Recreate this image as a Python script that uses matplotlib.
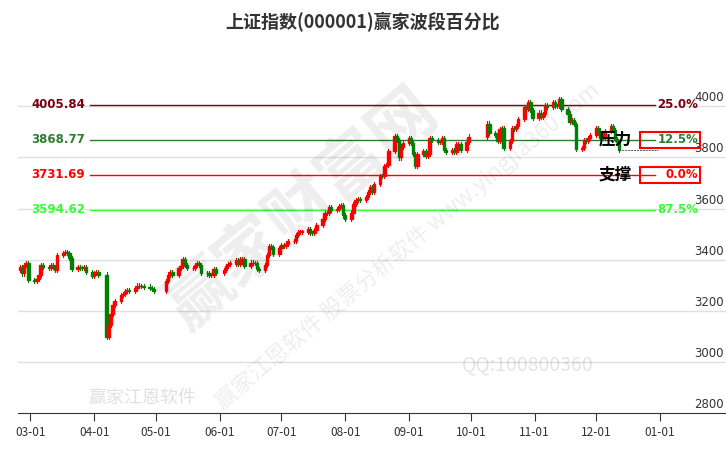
import matplotlib
matplotlib.use("Agg")
import matplotlib.pyplot as plt
import matplotlib.dates as mdates
import pandas as pd
import numpy as np
from matplotlib.patches import Rectangle

plt.rcParams['font.family'] = ['Noto Sans CJK SC', 'DejaVu Sans']

closes = [3373,3346,3380,3388,3320,
 3316,3324,3341,3381,3372,3366,3379,3371,3358,3419,3426,3429,3426,3408,3364,3370,3369,3368,3373,3351,3336,
 3348,3350,3342,3096,3145,3186,3223,3238,3262,3267,3276,3280,3276,3291,3299,3296,3297,3295,3288,3286,3279,
 3316,3342,3352,3342,3369,3374,3403,3380,3367,3367,3381,3387,3380,3348,3346,3340,3340,3363,3347,
 3361,3376,3384,3385,3399,3385,3402,3402,3377,3389,3387,3388,3362,3359,3381,3420,3455,3448,3424,3444,
 3457,3454,3461,3473,3473,3497,3509,3510,3510,3519,3505,3503,3516,3534,3559,3581,3582,3605,3593,3597,3609,3615,3573,
 3559,3583,3617,3634,3639,3635,3647,3665,3683,3666,3696,3728,3727,3766,3771,3825,3883,3868,3800,3843,3857,
 3875,3858,3813,3765,3812,3826,3807,3812,3875,3870,3860,3861,3876,3831,3820,3828,3821,3853,3853,3828,3862,3882,
 3933,3897,3889,3865,3912,3916,3839,3863,3916,3913,3922,3950,3996,3988,4016,3986,3954,
 3976,3960,3969,4007,3997,4018,4002,4000,4029,3990,3972,3939,3946,3931,3834,3836,3870,3864,3875,3888,
 3914,3898,3878,3875,3902,3924,3909,3873,3860,3830]
first_open = 3360
holidays = ['2025-04-04','2025-05-01','2025-05-02','2025-05-05','2025-06-02',
            '2025-10-01','2025-10-02','2025-10-03','2025-10-06','2025-10-07','2025-10-08']
levels = [4005.84, 3868.77, 3731.69, 3594.62]
level_pct = ['25.0%', '12.5%', '0.0%', '87.5%']
level_colors = ['#8B0000', '#2E7D32', '#FF0000', '#33FF33']
label_colors = ['#7A0010', '#2E7D32', '#FF0000', '#33FF33']
month_ticks = ['2025-03-01','2025-04-01','2025-05-01','2025-06-01','2025-07-01','2025-08-01',
               '2025-09-01','2025-10-01','2025-11-01','2025-12-01','2026-01-01']
yticks = [2800, 3000, 3200, 3400, 3600, 3800, 4000]

dates = pd.bdate_range('2025-02-24', '2025-12-31')
dates = dates[~dates.isin(pd.to_datetime(holidays))][:len(closes)]
opens = [first_open] + closes[:-1]

fig = plt.figure(figsize=(7.26, 4.5), dpi=100)
ax = fig.add_axes([18/726, 37/450, 708/726, 371/450])
ax.set_ylim(2800, 4252)
ax.set_xlim(mdates.date2num(pd.Timestamp('2025-02-23')), mdates.date2num(pd.Timestamp('2026-02-02')))
for y in yticks[1:]:
    ax.axhline(y, color='#e0e0e0', lw=1, zorder=0)
x = mdates.date2num(dates)
for xi, o, c in zip(x, opens, closes):
    col = '#ff0000' if c >= o else '#008000'
    hi = max(o, c) + 8; lo = min(o, c) - 8
    ax.plot([xi, xi], [lo, hi], color=col, lw=0.8, zorder=2)
    ax.add_patch(Rectangle((xi-0.6, min(o, c)), 1.2, max(abs(c-o), 1.5), color=col, zorder=3))

trans = ax.get_yaxis_transform()
for lv, pct, lc, tc in zip(levels, level_pct, level_colors, label_colors):
    ax.axhline(lv, color=lc, lw=1, zorder=1, xmin=0.102, xmax=0.90)
    ax.text(0.095, lv, f'{lv:.2f}', transform=trans, color=tc, fontsize=8.5,
            fontweight='bold', family=['DejaVu Sans'], va='center', ha='right')
    ax.text(0.961, lv, pct, transform=trans, color=tc, fontsize=8.5, fontweight='bold',
            family=['DejaVu Sans'], va='center', ha='right')
for lv in levels[1:3]:
    ax.add_patch(Rectangle((0.878, lv - 30), 0.085, 60, transform=trans, fill=False,
                           edgecolor='#ff0000', lw=1.5, zorder=5))
ax.text(0.82, levels[1], '压力', transform=trans, fontsize=12, fontweight='bold', va='center', ha='left')
ax.text(0.82, levels[2], '支撑', transform=trans, fontsize=12, fontweight='bold', va='center', ha='left')
ax.plot([x[-1], mdates.date2num(pd.Timestamp('2025-12-31'))], [closes[-1], closes[-1]],
        color='#555555', lw=0.7, ls=(0, (2, 1)))
for y in yticks:
    ax.text(0.997, y + 8, str(y), transform=trans, fontsize=8.5, color='#333333',
            ha='right', va='bottom', family=['DejaVu Sans'])

ax.set_yticks([])
ax.set_xticks(mdates.date2num(pd.to_datetime(month_ticks)))
ax.xaxis.set_major_formatter(mdates.DateFormatter('%m-%d'))
ax.tick_params(axis='x', direction='out', length=6, labelsize=8.5, colors='#333333')
for s in ['top', 'right', 'left']:
    ax.spines[s].set_visible(False)
ax.spines['bottom'].set_color('#333333')

ax.text(0.4, 0.55, '赢家财富网', transform=ax.transAxes, fontsize=48, color='#000000', alpha=0.07,
        rotation=40, ha='center', va='center', fontweight='bold')
ax.text(0.55, 0.45, '赢家江恩软件 股票分析软件 www.yingjia360.com', transform=ax.transAxes, fontsize=16,
        color='#000000', alpha=0.07, rotation=40, ha='center', va='center')
ax.text(0.72, 0.13, 'QQ:100800360', transform=ax.transAxes, fontsize=14, color='#000000', alpha=0.1,
        ha='center', va='center')
ax.text(0.1, 0.04, '赢家江恩软件', transform=ax.transAxes, fontsize=13, color='#000000', alpha=0.12,
        ha='left', va='center')

fig.text(0.5, 0.95, '上证指数(000001)赢家波段百分比', ha='center', va='center', fontsize=13, fontweight='bold',
         color='#333333')
fig.savefig('out.png', dpi=100)
